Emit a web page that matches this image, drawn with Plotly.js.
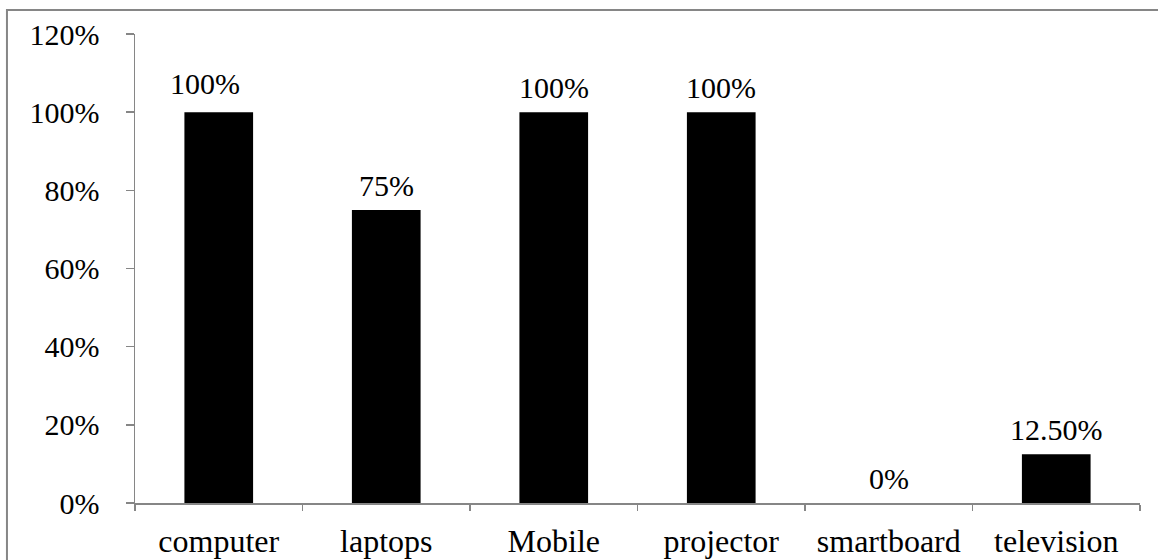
<!DOCTYPE html>
<html>
<head>
<meta charset="utf-8">
<script src="https://cdn.plot.ly/plotly-3.0.1.min.js"></script>
<style>
  html, body { margin: 0; padding: 0; background: #ffffff; }
  #chart { width: 1158px; height: 560px; }
</style>
</head>
<body>
<div id="chart"></div>
<script>
// Share of respondents using each device
const categories = ['computer', 'laptops', 'Mobile', 'projector', 'smartboard', 'television'];
const shares = [1.00, 0.75, 1.00, 1.00, 0.00, 0.125];
const yTickValues = [0, 0.2, 0.4, 0.6, 0.8, 1.0, 1.2];
const yTickLabels = ['0%', '20%', '40%', '60%', '80%', '100%', '120%'];

const FONT = 'Liberation Serif, Times New Roman, serif';
const AXIS_GREY = '#868686';

// Value labels: whole percentages without decimals, others with two
function fmtShare(v) {
  const p = v * 100;
  return Math.abs(p - Math.round(p)) < 1e-9 ? Math.round(p) + '%' : p.toFixed(2) + '%';
}

const trace = {
  type: 'bar',
  x: categories,
  y: shares,
  marker: { color: '#000000', line: { width: 0 } },
  hoverinfo: 'x+y'
};

const annotations = categories.map((c, i) => ({
  x: c,
  y: shares[i],
  xref: 'x',
  yref: 'y',
  text: fmtShare(shares[i]),
  showarrow: false,
  yanchor: 'bottom',
  xanchor: 'center',
  yshift: i === 0 ? 10 : 6,
  xshift: i === 0 ? -14 : 0,
  font: { family: FONT, size: 30, color: '#000000' }
}));

const layout = {
  width: 1158,
  height: 560,
  margin: { l: 135, r: 18, t: 34, b: 57 },
  paper_bgcolor: '#ffffff',
  plot_bgcolor: '#ffffff',
  showlegend: false,
  bargap: 0.59,
  font: { family: FONT, size: 30, color: '#000000' },
  xaxis: {
    type: 'category',
    showline: true,
    linecolor: AXIS_GREY,
    linewidth: 1.5,
    ticks: 'outside',
    tickson: 'boundaries',
    ticklen: 6,
    tickwidth: 1.5,
    tickcolor: AXIS_GREY,
    ticklabelstandoff: 9,
    showgrid: false,
    zeroline: false,
    tickfont: { family: FONT, size: 32, color: '#000000' }
  },
  yaxis: {
    range: [0, 1.2],
    tickvals: yTickValues,
    ticktext: yTickLabels,
    showline: true,
    linecolor: AXIS_GREY,
    linewidth: 1.5,
    ticks: 'outside',
    ticklen: 8,
    tickwidth: 1.5,
    tickcolor: AXIS_GREY,
    ticklabelstandoff: 20,
    showgrid: false,
    zeroline: false,
    tickfont: { family: FONT, size: 30, color: '#000000' }
  },
  annotations: annotations,
  shapes: [{
    type: 'rect',
    xref: 'paper',
    yref: 'paper',
    x0: -0.1274, x1: 1.2,
    y0: -0.3, y1: 1.0512,
    line: { color: AXIS_GREY, width: 2 },
    fillcolor: 'rgba(0,0,0,0)',
    layer: 'below'
  }]
};

Plotly.newPlot('chart', [trace], layout, { displayModeBar: false, staticPlot: true });
</script>
</body>
</html>
